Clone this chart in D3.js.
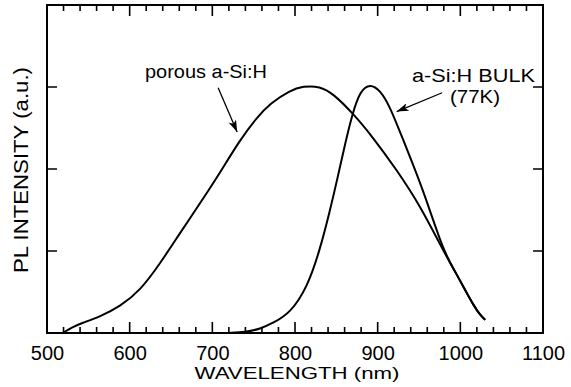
<!DOCTYPE html>
<html>
<head>
<meta charset="utf-8">
<script src="https://cdn.jsdelivr.net/npm/d3@7"></script>
<style>
  body { margin: 0; background: #fff; }
  text { font-family: "Liberation Sans", Arial, sans-serif; fill: #000; }
</style>
</head>
<body>
<div id="chart"></div>
<script>
// values (wavelength in nm, intensity in arbitrary units)
const porousWl  = [519, 530, 542, 564, 588, 613, 637, 661, 681, 706, 733, 754, 770, 794, 810, 830, 846, 870, 894, 923, 951, 979, 992, 1005, 1017, 1024, 1030];
const porousInt = [0, 0.07, 0.12, 0.20, 0.32, 0.52, 0.85, 1.22, 1.52, 1.90, 2.35, 2.63, 2.80, 2.96, 3.01, 3.01, 2.92, 2.68, 2.39, 1.99, 1.56, 1.01, 0.78, 0.54, 0.32, 0.22, 0.16];

const bulkWl  = [720, 740, 758, 773, 794, 815, 830, 842, 851, 860, 869, 879, 891, 903, 915, 931, 955, 979, 992, 1005, 1017, 1024, 1030];
const bulkInt = [0, 0.01, 0.05, 0.12, 0.24, 0.56, 1.01, 1.48, 1.87, 2.28, 2.66, 2.96, 3.04, 2.96, 2.76, 2.35, 1.75, 1.01, 0.78, 0.54, 0.32, 0.22, 0.16];

const xMajor = [500, 600, 700, 800, 900, 1000, 1100];
const yMajor = [1, 2, 3];

const width = 571, height = 387;
const plotLeft = 47, plotRight = 543, plotTop = 5, plotBottom = 333;

const svg = d3.select('#chart').append('svg')
  .attr('width', width)
  .attr('height', height);

const x = d3.scaleLinear().domain([500, 1100]).range([plotLeft, plotRight]);
const y = d3.scaleLinear().domain([0, 4]).range([plotBottom, plotTop]);

const xMinor = d3.range(520, 1100, 20).filter(v => v % 100 !== 0);

// frame
svg.append('rect')
  .attr('x', plotLeft).attr('y', plotTop)
  .attr('width', plotRight - plotLeft).attr('height', plotBottom - plotTop)
  .attr('fill', 'none').attr('stroke', '#000').attr('stroke-width', 2);

// bottom axis labels
const gx = svg.append('g')
  .attr('transform', 'translate(0,' + plotBottom + ')')
  .call(d3.axisBottom(x).tickValues(xMajor).tickSize(0).tickPadding(13).tickFormat(d3.format('d')));
gx.selectAll('text').style('font-size', '20px');
gx.select('.domain').remove();

// inward tick marks, drawn as one path per side
function xTickPath(y0, dir) {
  let p = '';
  xMajor.forEach(v => { p += 'M' + x(v) + ',' + y0 + 'v' + (dir * 11); });
  xMinor.forEach(v => { p += 'M' + x(v) + ',' + y0 + 'v' + (dir * 6); });
  return p;
}
function yTickPath(x0, dir) {
  let p = '';
  yMajor.forEach(v => { p += 'M' + x0 + ',' + y(v) + 'h' + (dir * 10); });
  return p;
}
svg.append('path').attr('d', xTickPath(plotBottom, -1))
  .attr('fill', 'none').attr('stroke', '#000').attr('stroke-width', 1.6);
svg.append('path').attr('d', xTickPath(plotTop, 1))
  .attr('fill', 'none').attr('stroke', '#000').attr('stroke-width', 1.6);
svg.append('path').attr('d', yTickPath(plotLeft, 1))
  .attr('fill', 'none').attr('stroke', '#000').attr('stroke-width', 1.6);
svg.append('path').attr('d', yTickPath(plotRight, -1))
  .attr('fill', 'none').attr('stroke', '#000').attr('stroke-width', 1.6);

const line = d3.line()
  .x(d => x(d[0]))
  .y(d => y(d[1]))
  .curve(d3.curveBasis);

svg.append('path')
  .datum(d3.zip(porousWl, porousInt))
  .attr('d', line)
  .attr('fill', 'none').attr('stroke', '#000').attr('stroke-width', 2);

svg.append('path')
  .datum(d3.zip(bulkWl, bulkInt))
  .attr('d', line)
  .attr('fill', 'none').attr('stroke', '#000').attr('stroke-width', 2);

// axis titles
svg.append('text')
  .attr('x', 297).attr('y', 379)
  .attr('text-anchor', 'middle')
  .attr('textLength', 205).attr('lengthAdjust', 'spacingAndGlyphs')
  .style('font-size', '16px')
  .text('WAVELENGTH (nm)');

svg.append('text')
  .attr('transform', 'translate(28,170) rotate(-90)')
  .attr('text-anchor', 'middle')
  .attr('textLength', 206).attr('lengthAdjust', 'spacingAndGlyphs')
  .style('font-size', '21px')
  .text('PL INTENSITY (a.u.)');

// annotations
svg.append('defs').append('marker')
  .attr('id', 'head')
  .attr('viewBox', '0 0 12 8')
  .attr('refX', 12).attr('refY', 4)
  .attr('markerWidth', 12).attr('markerHeight', 8)
  .attr('markerUnits', 'userSpaceOnUse')
  .attr('orient', 'auto')
  .append('path')
  .attr('d', 'M0,0 L12,4 L0,8 L3,4 Z')
  .attr('fill', '#000');

svg.append('text')
  .attr('x', 145).attr('y', 78)
  .attr('textLength', 122).attr('lengthAdjust', 'spacingAndGlyphs')
  .style('font-size', '18px')
  .text('porous a-Si:H');

svg.append('line')
  .attr('x1', x(707)).attr('y1', y(2.99))
  .attr('x2', x(730)).attr('y2', y(2.45))
  .attr('stroke', '#000').attr('stroke-width', 1.3)
  .attr('marker-end', 'url(#head)');

svg.append('text')
  .attr('x', 412).attr('y', 82)
  .attr('textLength', 123).attr('lengthAdjust', 'spacingAndGlyphs')
  .style('font-size', '19px')
  .text('a-Si:H BULK');

svg.append('text')
  .attr('x', 450).attr('y', 103)
  .attr('textLength', 50).attr('lengthAdjust', 'spacingAndGlyphs')
  .style('font-size', '19px')
  .text('(77K)');

svg.append('line')
  .attr('x1', x(978)).attr('y1', y(2.93))
  .attr('x2', x(923)).attr('y2', y(2.70))
  .attr('stroke', '#000').attr('stroke-width', 1.3)
  .attr('marker-end', 'url(#head)');
</script>
</body>
</html>
